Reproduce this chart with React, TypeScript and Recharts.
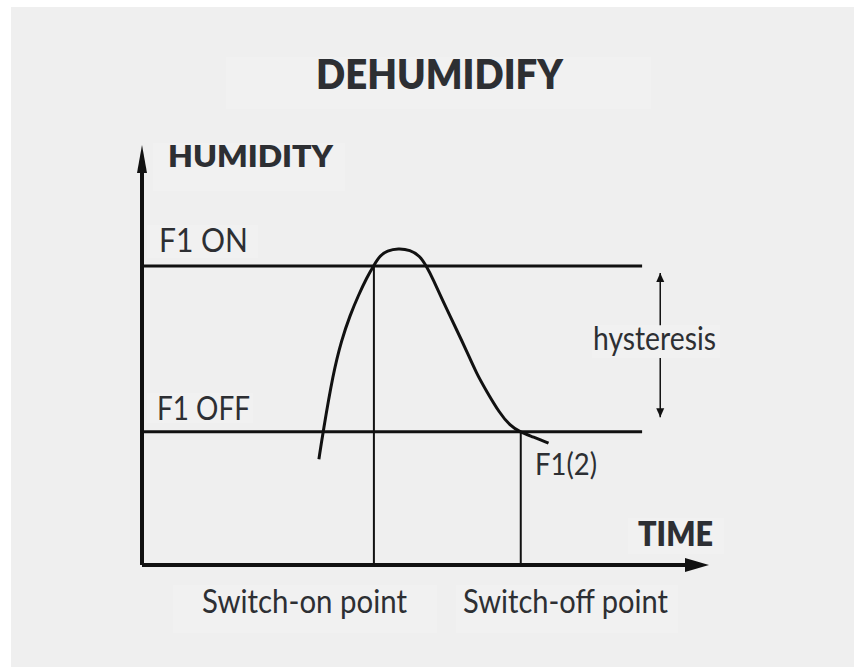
import React from "react";
import {
  ComposedChart,
  Line,
  XAxis,
  YAxis,
  ReferenceLine,
  ReferenceDot,
  Customized,
} from "recharts";

// humidity curve (time %, humidity %)
const curveTime = [
  31.2, 31.9, 33.7, 35.2, 36.7, 38.2, 39.6, 40.9, 42.0, 43.2, 45.2, 47.3, 49.0,
  50.1, 51.4, 53.1, 55.5, 57.3, 59.0, 60.8, 63.1, 64.9, 66.7, 69.0, 71.7,
];
const curveHumidity = [
  25.2, 31.4, 45.6, 53.6, 59.5, 64.3, 68.3, 71.4, 73.7, 74.8, 75.4, 75.0, 73.6,
  71.3, 67.9, 62.7, 56.0, 50.8, 45.6, 41.3, 36.1, 33.2, 31.6, 30.5, 29.0,
];

const levelNames = ["F1 ON", "F1 OFF"];
const levelValues = [71.2, 31.7];
const levelEnd = 88.2;

const switchNames = ["Switch-on point", "Switch-off point"];
const switchTimes = [40.9, 66.8];

const hysteresisTime = 91.4;
const hysteresisSpan = [69.5, 57.1, 49.3, 35.2];

const data = curveTime.map((t, i) => ({ t, h: curveHumidity[i] }));

const INK = "#111";
const TEXT = "#2d2f33";
const FONT = "Lato, 'Open Sans', sans-serif";

const Caption = ({ x, y, w, size, bold, children }: any) => (
  <text
    x={x}
    y={y}
    fontSize={size}
    fontFamily={FONT}
    fontWeight={bold ? 800 : 400}
    fill={TEXT}
    textLength={w}
    lengthAdjust="spacingAndGlyphs"
  >
    {children}
  </text>
);

const Box = ({ x, y, w, h }: any) => (
  <rect x={x} y={y} width={w} height={h} fill="#f1f1f1" />
);

const Texts = () => (
  <g>
    <Box x={226} y={57} w={425} h={52} />
    <Box x={153} y={143} w={192} h={48} />
    <Box x={147} y={225} w={111} h={33} />
    <Box x={147} y={393} w={106} h={30} />
    <Box x={592} y={325} w={128} h={33} />
    <Box x={628} y={518} w={96} h={36} />
    <Box x={173} y={585} w={264} h={48} />
    <Box x={456} y={585} w={222} h={48} />
    <Caption x={316} y={89} w={247} size={41} bold>
      DEHUMIDIFY
    </Caption>
    <Caption x={168} y={167} w={165} size={31} bold>
      HUMIDITY
    </Caption>
    <Caption x={159} y={252} w={89} size={33}>
      {levelNames[0]}
    </Caption>
    <Caption x={157} y={420} w={93} size={32}>
      {levelNames[1]}
    </Caption>
    <Caption x={593} y={350} w={123} size={33}>
      hysteresis
    </Caption>
    <Caption x={535} y={475} w={62} size={31}>
      F1(2)
    </Caption>
    <Caption x={638} y={546} w={75} size={33} bold>
      TIME
    </Caption>
    <Caption x={202} y={613} w={205} size={33}>
      {switchNames[0]}
    </Caption>
    <Caption x={463} y={613} w={205} size={33}>
      {switchNames[1]}
    </Caption>
  </g>
);

const arrowRight = (p: any) => (
  <polygon
    points={`${p.cx},${p.cy} ${p.cx - 24},${p.cy - 7} ${p.cx - 24},${p.cy + 7}`}
    fill={INK}
  />
);
const arrowUp = (p: any) => (
  <polygon
    points={`${p.cx},${p.cy} ${p.cx - 5},${p.cy + 28} ${p.cx + 5},${p.cy + 28}`}
    fill={INK}
  />
);
const smallUp = (p: any) => (
  <polygon
    points={`${p.cx},${p.cy} ${p.cx - 4},${p.cy + 9} ${p.cx + 4},${p.cy + 9}`}
    fill={INK}
  />
);
const smallDown = (p: any) => (
  <polygon
    points={`${p.cx},${p.cy} ${p.cx - 4},${p.cy - 9} ${p.cx + 4},${p.cy - 9}`}
    fill={INK}
  />
);

export default function App() {
  return (
    <div
      style={{
        position: "absolute",
        left: 0,
        top: 0,
        width: 854,
        height: 667,
        background: "#fff",
        overflow: "hidden",
      }}
    >
      <div
        style={{
          position: "absolute",
          left: 11,
          top: 7,
          width: 843,
          height: 660,
          background: "#efefef",
        }}
      />
      <div style={{ position: "absolute", left: 0, top: 0 }}>
        <ComposedChart
          width={854}
          height={667}
          data={data}
          margin={{ top: 145, right: 145, bottom: 102, left: 142 }}
        >
          <Customized component={Texts} />
          <XAxis
            dataKey="t"
            type="number"
            domain={[0, 100]}
            allowDataOverflow
            hide
          />
          <YAxis type="number" domain={[0, 100]} allowDataOverflow hide />

          {/* axes */}
          <ReferenceLine
            segment={[{ x: 0, y: 0 }, { x: 97, y: 0 }]}
            stroke={INK}
            strokeWidth={4}
          />
          <ReferenceLine
            segment={[{ x: 0, y: 0 }, { x: 0, y: 96 }]}
            stroke={INK}
            strokeWidth={4}
          />
          <ReferenceDot x={100} y={0} ifOverflow="visible" shape={arrowRight} />
          <ReferenceDot x={0} y={100} ifOverflow="visible" shape={arrowUp} />

          {/* on / off levels */}
          {levelValues.map((v) => (
            <ReferenceLine
              key={v}
              segment={[{ x: 0, y: v }, { x: levelEnd, y: v }]}
              stroke={INK}
              strokeWidth={3}
            />
          ))}

          {/* switch points */}
          {switchTimes.map((t, i) => (
            <ReferenceLine
              key={t}
              segment={[{ x: t, y: 0 }, { x: t, y: levelValues[i] }]}
              stroke={INK}
              strokeWidth={2}
            />
          ))}

          {/* hysteresis arrow */}
          <ReferenceLine
            segment={[
              { x: hysteresisTime, y: hysteresisSpan[0] },
              { x: hysteresisTime, y: hysteresisSpan[1] },
            ]}
            stroke={INK}
            strokeWidth={1.5}
          />
          <ReferenceLine
            segment={[
              { x: hysteresisTime, y: hysteresisSpan[2] },
              { x: hysteresisTime, y: hysteresisSpan[3] },
            ]}
            stroke={INK}
            strokeWidth={1.5}
          />
          <ReferenceDot
            x={hysteresisTime}
            y={hysteresisSpan[0]}
            shape={smallUp}
          />
          <ReferenceDot
            x={hysteresisTime}
            y={hysteresisSpan[3]}
            shape={smallDown}
          />

          <Line
            dataKey="h"
            type="basis"
            stroke={INK}
            strokeWidth={3}
            dot={false}
            activeDot={false}
            isAnimationActive={false}
          />
        </ComposedChart>
      </div>
    </div>
  );
}
